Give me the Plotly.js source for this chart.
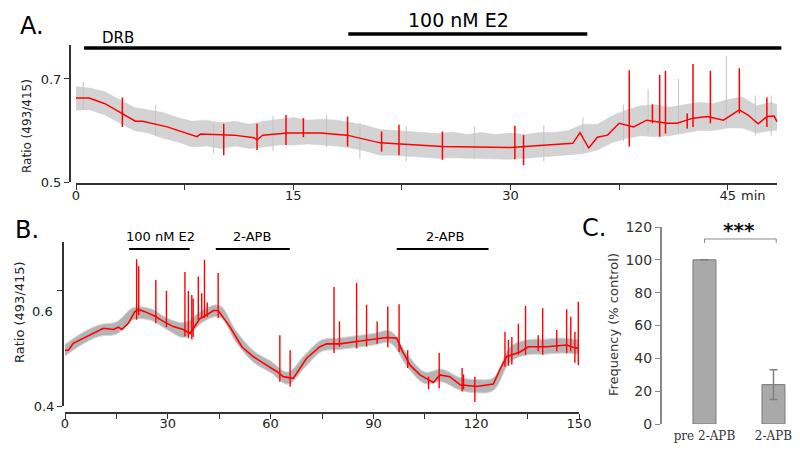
<!DOCTYPE html>
<html>
<head>
<meta charset="utf-8">
<script src="https://cdn.plot.ly/plotly-3.0.1.min.js"></script>
<style>html,body{margin:0;padding:0;background:#fff;}#chart{width:800px;height:460px;}</style>
</head>
<body>
<div id="chart"></div>
<script>
// ---------- Panel A data (time in min, ratio 493/415) ----------
const aRedT = [0,0.9,2,3.25,4.1,4.6,6.3,8.35,8.6,10.9,12.3,12.5,12.9,14.6,16.9,18.7,20.1,21,22.4,25.3,30,33,34.3,34.8,35.4,36,36.7,37.5,38.5,39.4,40.8,41.5,42.6,43.6,44.7,45.8,46.4,47.1,47.7,48.2,48.4];
const aRedV = [0.663,0.663,0.652,0.632,0.618,0.618,0.607,0.588,0.593,0.591,0.586,0.582,0.591,0.595,0.595,0.591,0.582,0.576,0.574,0.569,0.567,0.572,0.575,0.596,0.566,0.587,0.591,0.614,0.607,0.620,0.614,0.614,0.624,0.627,0.620,0.640,0.630,0.613,0.627,0.628,0.617];
const aSpikeT   = [3.2,10.2,12.5,14.5,15.7,18.75,21.1,22.3,25.3,30.3,30.9,38.2,39.8,40.3,40.7,42.2,42.6,43.8,45.8,47.7];
const aSpikeTop = [0.664,0.613,0.613,0.630,0.624,0.627,0.598,0.611,0.598,0.609,0.591,0.717,0.651,0.708,0.716,0.633,0.729,0.716,0.721,0.664];
const aSpikeBot = [0.607,0.552,0.562,0.572,0.587,0.569,0.559,0.552,0.543,0.544,0.533,0.569,0.614,0.588,0.594,0.604,0.607,0.614,0.633,0.607];
const aBandT  = [0,1,2,3,4,5,6,7,8,9,10,11,12,13,14,15,16,17,18,19,20,21,22,23,24,25,26,27,28,29,30,31,32,33,34,35,36,37,38,39,40,41,42,43,44,45,46,47,48,48.4];
const aBandUp = [0.685,0.682,0.675,0.660,0.645,0.640,0.635,0.625,0.618,0.620,0.615,0.618,0.612,0.618,0.622,0.625,0.620,0.622,0.620,0.615,0.610,0.602,0.600,0.598,0.596,0.594,0.597,0.592,0.596,0.592,0.595,0.592,0.596,0.596,0.600,0.612,0.612,0.628,0.640,0.648,0.650,0.645,0.650,0.655,0.652,0.660,0.665,0.648,0.655,0.650];
const aBandLo = [0.640,0.640,0.630,0.615,0.600,0.595,0.585,0.578,0.568,0.570,0.565,0.570,0.565,0.568,0.572,0.572,0.574,0.572,0.570,0.566,0.560,0.552,0.552,0.550,0.548,0.546,0.547,0.546,0.545,0.545,0.544,0.546,0.548,0.550,0.552,0.555,0.562,0.576,0.585,0.590,0.588,0.590,0.595,0.600,0.600,0.605,0.605,0.595,0.600,0.600];
const aGraySpikeT   = [0.5,5.5,9.5,13.6,17.3,19.6,22.8,27.5,32.3,35.0,37.8,39.5,41.6,44.9,46.9,48.0];
const aGraySpikeTop = [0.695,0.650,0.615,0.628,0.630,0.615,0.608,0.608,0.610,0.625,0.650,0.680,0.700,0.745,0.668,0.668];
const aGraySpikeBot = [0.640,0.590,0.555,0.560,0.568,0.545,0.540,0.545,0.540,0.560,0.580,0.595,0.595,0.610,0.590,0.590];
const aTreatLabels = ['DRB','100 nM E2'];
const aTreatStart  = [0.55,18.8];
const aTreatEnd    = [48.7,35.3];
const aXTickVals = [0,7.5,15,22.5,30,37.5,45];
const aXTickText = ['0','','15','','30','','45'];
const aYTickVals = [0.5,0.7];

// ---------- Panel B data ----------
const bRedT = [0,1,2.4,7.3,10.2,11.2,14.1,15.6,16.6,18.5,20.4,21.4,23.3,26.3,28.7,31.6,34.5,36.5,37.9,39.4,41.3,43.3,44.7,48.1,51.6,54.9,58.8,61.8,63.7,66.6,70.5,74.4,76.4,80.2,85.1,89,93.9,96.8,98.3,100.7,103.6,107.5,109.4,112.3,115.3,120.1,125,126.9,128.9,132.8,135.2,140.6,146.4,149.3,150];
const bRedV = [0.497,0.497,0.509,0.523,0.532,0.535,0.533,0.537,0.533,0.544,0.564,0.568,0.564,0.556,0.547,0.538,0.533,0.526,0.539,0.552,0.558,0.566,0.566,0.538,0.503,0.486,0.471,0.460,0.451,0.448,0.483,0.503,0.508,0.508,0.512,0.515,0.519,0.518,0.497,0.471,0.454,0.441,0.454,0.451,0.437,0.434,0.438,0.463,0.486,0.494,0.503,0.503,0.506,0.500,0.503];
const bSpikeT   = [20.9,21.5,26.5,29.6,35.0,36.0,37.0,37.4,38.9,39.9,40.7,41.5,44.7,62.7,65.7,78.5,80.1,85.1,88.0,91.1,94.2,97.5,100.0,106.1,109.2,115.9,116.3,119.6,128.4,129.4,130.4,132.3,134.4,138.1,139.4,143.5,146.4,147.6,148.8,149.8];
const bSpikeTop = [0.655,0.643,0.619,0.600,0.633,0.600,0.593,0.587,0.625,0.596,0.654,0.580,0.631,0.523,0.497,0.607,0.547,0.614,0.576,0.547,0.573,0.577,0.497,0.451,0.492,0.466,0.455,0.451,0.529,0.515,0.520,0.543,0.574,0.523,0.570,0.532,0.568,0.555,0.529,0.581];
const bSpikeBot = [0.550,0.558,0.544,0.537,0.521,0.518,0.516,0.520,0.550,0.552,0.553,0.555,0.553,0.442,0.434,0.492,0.503,0.500,0.503,0.508,0.502,0.494,0.466,0.429,0.431,0.425,0.429,0.407,0.468,0.470,0.472,0.489,0.489,0.495,0.489,0.495,0.492,0.495,0.475,0.471];
const bBandT  = [0,5,10,15,20,25,30,35,40,45,50,55,60,65,70,75,80,85,90,95,100,105,110,115,120,125,130,135,140,145,150];
const bBandUp = [0.507,0.527,0.541,0.546,0.571,0.569,0.552,0.545,0.566,0.575,0.530,0.496,0.478,0.459,0.489,0.515,0.518,0.522,0.526,0.530,0.489,0.459,0.464,0.450,0.446,0.449,0.503,0.515,0.516,0.518,0.515];
const bBandLo = [0.487,0.507,0.521,0.525,0.550,0.549,0.532,0.519,0.545,0.555,0.510,0.476,0.458,0.438,0.467,0.495,0.498,0.502,0.506,0.509,0.467,0.439,0.442,0.428,0.423,0.427,0.477,0.489,0.490,0.492,0.490];
const bTreatLabels = ['100 nM E2','2-APB','2-APB'];
const bTreatStart  = [18.7,44,96.8];
const bTreatEnd    = [36.4,65.6,123.6];
const bXTickVals = [0,15,30,45,60,75,90,105,120,135,150];
const bXTickText = ['0','','30','','60','','90','','120','','150'];

// ---------- Panel C data ----------
const cCats = ['pre 2-APB','2-APB'];
const cVals = [100,24];
const cErr  = [0,9];
const cYTickVals = [0,20,40,60,80,100,120];

// ---------- helpers ----------
function spikeXY(t, top, bot){
  const x=[], y=[];
  for(let i=0;i<t.length;i++){ x.push(t[i],t[i],null); y.push(top[i],bot[i],null); }
  return {x, y};
}
const W=800, H=460;
const px = v => v/W;
const py = v => 1 - v/H;

const aDom=[px(76),px(777)], aRange=[0,48.4];
const bDom=[px(65),px(579)], bRange=[0,150];
const toPaper = (dom, rng, t) => dom[0] + (t - rng[0])/(rng[1]-rng[0])*(dom[1]-dom[0]);

const red='#ff0000';
const traces=[];
// Panel A
traces.push({x:aBandT, y:aBandUp, mode:'lines', line:{width:0.5,color:'#cfcfcf'}, xaxis:'x', yaxis:'y', hoverinfo:'skip', showlegend:false});
traces.push({x:aBandT, y:aBandLo, mode:'lines', line:{width:0.5,color:'#cfcfcf'}, fill:'tonexty', fillcolor:'#d3d3d3', xaxis:'x', yaxis:'y', hoverinfo:'skip', showlegend:false});
const ags=spikeXY(aGraySpikeT,aGraySpikeTop,aGraySpikeBot);
traces.push({x:ags.x, y:ags.y, mode:'lines', line:{width:1,color:'#c4c4c4'}, xaxis:'x', yaxis:'y', hoverinfo:'skip', showlegend:false});
traces.push({x:aRedT, y:aRedV, mode:'lines', line:{width:1.5,color:red}, xaxis:'x', yaxis:'y', showlegend:false});
const asp=spikeXY(aSpikeT,aSpikeTop,aSpikeBot);
traces.push({x:asp.x, y:asp.y, mode:'lines', line:{width:1.5,color:red}, xaxis:'x', yaxis:'y', showlegend:false});
// Panel B
traces.push({x:bBandT, y:bBandUp, mode:'lines', line:{width:1,color:'#d4d4d4', shape:'spline'}, xaxis:'x2', yaxis:'y2', hoverinfo:'skip', showlegend:false});
traces.push({x:bBandT, y:bBandLo, mode:'lines', line:{width:1,color:'#d4d4d4', shape:'spline'}, fill:'tonexty', fillcolor:'#b4b4b4', xaxis:'x2', yaxis:'y2', hoverinfo:'skip', showlegend:false});
traces.push({x:bRedT, y:bRedV, mode:'lines', line:{width:1.6,color:red}, xaxis:'x2', yaxis:'y2', showlegend:false});
const bsp=spikeXY(bSpikeT,bSpikeTop,bSpikeBot);
traces.push({x:bsp.x, y:bsp.y, mode:'lines', line:{width:1.4,color:red}, xaxis:'x2', yaxis:'y2', showlegend:false});
// Panel C
traces.push({type:'bar', x:cCats, y:cVals, width:0.333, marker:{color:'#a9a9a9', line:{color:'#7a7a7a', width:1}},
  error_y:{type:'data', array:cErr, visible:true, color:'#808080', thickness:1.5, width:4},
  xaxis:'x3', yaxis:'y3', showlegend:false});

const font = 'DejaVu Sans, sans-serif';
const axCol = '#333333';
const shapes=[];
const annotations=[];
// treatment bars A
for(let i=0;i<aTreatLabels.length;i++){
  shapes.push({type:'line', xref:'paper', yref:'paper',
    x0:toPaper(aDom,aRange,aTreatStart[i]), x1:toPaper(aDom,aRange,aTreatEnd[i]),
    y0:py(i===0?48:34), y1:py(i===0?48:34), line:{color:'#000',width:3.5}});
}
annotations.push({text:aTreatLabels[0], xref:'paper', yref:'paper', x:px(100), y:py(38), xanchor:'left', yanchor:'middle', showarrow:false, font:{family:font,size:15,color:'#000'}});
annotations.push({text:aTreatLabels[1], xref:'paper', yref:'paper', x:px(458), y:py(20), xanchor:'center', yanchor:'middle', showarrow:false, font:{family:font,size:19,color:'#000'}});
// treatment bars B
const bLabelX=[160,252,445];
for(let i=0;i<bTreatLabels.length;i++){
  shapes.push({type:'line', xref:'paper', yref:'paper',
    x0:toPaper(bDom,bRange,bTreatStart[i]), x1:toPaper(bDom,bRange,bTreatEnd[i]),
    y0:py(249), y1:py(249), line:{color:'#000',width:2}});
  annotations.push({text:bTreatLabels[i], xref:'paper', yref:'paper', x:px(bLabelX[i]), y:py(236), xanchor:'center', yanchor:'middle', showarrow:false, font:{family:font,size:13,color:'#000'}});
}
// significance bracket C
shapes.push({type:'path', xref:'x3', yref:'y3', path:'M 0,110.3 L 0,112.7 L 1.04,112.7 L 1.04,110.3', line:{color:'#888',width:1}});
annotations.push({text:'<b>***</b>', xref:'paper', yref:'paper', x:px(739), y:py(230), xanchor:'center', yanchor:'middle', showarrow:false, font:{family:font,size:20,color:'#111'}});
// panel letters
annotations.push({text:'A.', xref:'paper', yref:'paper', x:px(18), y:py(26), xanchor:'left', yanchor:'middle', showarrow:false, font:{family:font,size:24,color:'#000'}});
annotations.push({text:'B.', xref:'paper', yref:'paper', x:px(13), y:py(230), xanchor:'left', yanchor:'middle', showarrow:false, font:{family:font,size:24,color:'#000'}});
annotations.push({text:'C.', xref:'paper', yref:'paper', x:px(580), y:py(228), xanchor:'left', yanchor:'middle', showarrow:false, font:{family:font,size:24,color:'#000'}});
// axis titles
annotations.push({text:'Ratio (493/415)', xref:'paper', yref:'paper', x:px(27), y:py(126), textangle:-90, xanchor:'center', yanchor:'middle', showarrow:false, font:{family:font,size:12,color:'#222'}});
annotations.push({text:'Ratio (493/415)', xref:'paper', yref:'paper', x:px(19), y:py(312), textangle:-90, xanchor:'center', yanchor:'middle', showarrow:false, font:{family:font,size:13,color:'#222'}});
annotations.push({text:'Frequency (% control)', xref:'paper', yref:'paper', x:px(613), y:py(325), textangle:-90, xanchor:'center', yanchor:'middle', showarrow:false, font:{family:font,size:13,color:'#333'}});
// extra tick texts
annotations.push({text:'min', xref:'paper', yref:'paper', x:px(753), y:py(195), xanchor:'center', yanchor:'middle', showarrow:false, font:{family:font,size:13,color:'#222'}});
annotations.push({text:'0.6', xref:'paper', yref:'paper', x:px(55), y:py(311), xanchor:'right', yanchor:'middle', showarrow:false, font:{family:font,size:13,color:'#222'}});

const baseAx = {showgrid:false, zeroline:false, showline:true, linecolor:axCol, linewidth:1.5, ticks:'outside', ticklen:5, tickwidth:1, tickcolor:axCol, tickfont:{family:font,size:13,color:'#222'}, fixedrange:true};

const layout = {
  width:W, height:H, autosize:false,
  margin:{l:0,r:0,t:0,b:0},
  paper_bgcolor:'#fff', plot_bgcolor:'rgba(0,0,0,0)',
  showlegend:false,
  xaxis: Object.assign({}, baseAx, {domain:aDom, range:aRange, anchor:'free', position:py(183), tickmode:'array', tickvals:aXTickVals, ticktext:aXTickText, ticklabelstandoff:-5}),
  yaxis: Object.assign({}, baseAx, {domain:[py(182),py(45)], range:[0.5,0.766], anchor:'free', position:px(69), tickmode:'array', tickvals:aYTickVals, ticktext:['0.5','0.7']}),
  xaxis2: Object.assign({}, baseAx, {domain:bDom, range:bRange, anchor:'free', position:py(412), tickmode:'array', tickvals:bXTickVals, ticktext:bXTickText, ticklabelstandoff:-6}),
  yaxis2: Object.assign({}, baseAx, {domain:[py(406),py(242)], range:[0.4,0.685], anchor:'free', position:px(62), tickmode:'array', tickvals:[0.4,0.6], ticktext:['0.4','']}),
  xaxis3: {domain:[px(665),px(795)], range:[-0.572,1.312], anchor:'y3', type:'category', showline:false, showgrid:false, zeroline:false, ticks:'', ticklabelstandoff:3, tickfont:{family:'DejaVu Serif, serif', size:12, color:'#333'}, fixedrange:true},
  yaxis3: Object.assign({}, baseAx, {domain:[py(424),py(227)], range:[0,120], anchor:'free', position:px(660), linecolor:'#888', tickcolor:'#888', tickmode:'array', tickvals:cYTickVals, tickfont:{family:font,size:14,color:'#333'}}),
  shapes, annotations
};

Plotly.newPlot('chart', traces, layout, {displayModeBar:false, staticPlot:true});
</script>
</body>
</html>
